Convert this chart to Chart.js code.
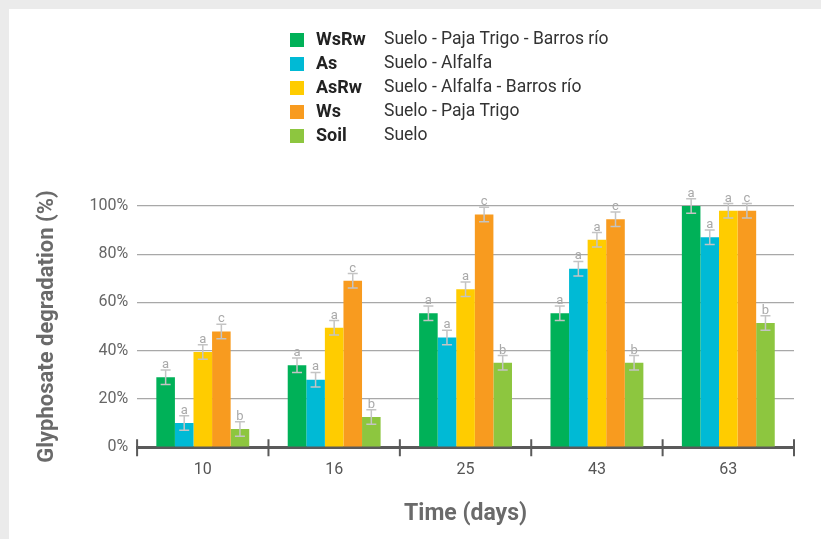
<!DOCTYPE html>
<html>
<head>
<meta charset="utf-8">
<script src="https://cdn.jsdelivr.net/npm/chart.js@4"></script>
<style>
  html, body { margin: 0; padding: 0; background: #ebebeb; }
  #panel { position: absolute; left: 9px; top: 9px; width: 812px; height: 530px; background: #ffffff; }
  #wrap { position: absolute; left: 0; top: 0; width: 821px; height: 539px; }
</style>
</head>
<body>
<div id="panel"></div>
<div id="wrap"><canvas id="chart" width="821" height="539"></canvas></div>
<script>
// Sampling days
const days = ['10', '16', '25', '43', '63'];

// Glyphosate degradation (%) per treatment
const wsRw = [29, 34, 55.5, 55.5, 100];
const as   = [10, 28, 45.5, 74, 87];
const asRw = [39.5, 49.5, 65.5, 86, 98];
const ws   = [48, 69, 96.5, 94.5, 98];
const soil = [7.5, 12.5, 35, 35, 51.5];

// Standard error of each mean (%)
const wsRwErr = [3, 3, 3, 3, 3];
const asErr   = [3, 3, 3, 3, 3];
const asRwErr = [3, 3, 3, 3, 3];
const wsErr   = [3, 3, 3, 3, 3];
const soilErr = [3, 3, 3, 3, 3];

// Significance letters
const wsRwSig = ['a', 'a', 'a', 'a', 'a'];
const asSig   = ['a', 'a', 'a', 'a', 'a'];
const asRwSig = ['a', 'a', 'a', 'a', 'a'];
const wsSig   = ['c', 'c', 'c', 'c', 'c'];
const soilSig = ['b', 'b', 'b', 'b', 'b'];

// Treatment codes and descriptions
const codes = ['WsRw', 'As', 'AsRw', 'Ws', 'Soil'];
const descriptions = [
  'Suelo - Paja Trigo - Barros río',
  'Suelo - Alfalfa',
  'Suelo - Alfalfa - Barros río',
  'Suelo - Paja Trigo',
  'Suelo'
];
const yTicks = [0, 20, 40, 60, 80, 100];

const colors = ['#00b158', '#00bad5', '#ffcc00', '#f89b1f', '#8dc63f'];
const FONT = 'Roboto, "Liberation Sans", sans-serif';

const series = [wsRw, as, asRw, ws, soil];
const errors = [wsRwErr, asErr, asRwErr, wsErr, soilErr];
const letters = [wsRwSig, asSig, asRwSig, wsSig, soilSig];

// Error bars with significance letters above each bar
const errorBars = {
  id: 'errorBars',
  afterDatasetsDraw(chart) {
    const ctx = chart.ctx;
    const y = chart.scales.y;
    ctx.save();
    chart.data.datasets.forEach((ds, i) => {
      const meta = chart.getDatasetMeta(i);
      meta.data.forEach((bar, j) => {
        const v = ds.data[j];
        const e = errors[i][j];
        const top = y.getPixelForValue(v + e);
        const bot = y.getPixelForValue(v - e);
        const x = bar.x;
        ctx.strokeStyle = '#c4c4c4';
        ctx.lineWidth = 1.5;
        ctx.beginPath();
        ctx.moveTo(x, top); ctx.lineTo(x, bot);
        ctx.moveTo(x - 5, top); ctx.lineTo(x + 5, top);
        ctx.moveTo(x - 5, bot); ctx.lineTo(x + 5, bot);
        ctx.stroke();
        ctx.fillStyle = '#a9a9a9';
        ctx.font = '13px ' + FONT;
        ctx.textAlign = 'center';
        ctx.textBaseline = 'alphabetic';
        ctx.fillText(letters[i][j], x, top - 2);
      });
    });
    ctx.restore();
  }
};

// Category separators on the time axis
const axisTicks = {
  id: 'axisTicks',
  afterDraw(chart) {
    const ctx = chart.ctx;
    const xs = chart.scales.x;
    const area = chart.chartArea;
    const step = xs.getPixelForValue(1) - xs.getPixelForValue(0);
    ctx.save();
    ctx.strokeStyle = '#5a5a5a';
    ctx.lineWidth = 2;
    ctx.beginPath();
    for (let i = 0; i <= days.length; i++) {
      const x = xs.getPixelForValue(0) - step / 2 + i * step;
      ctx.moveTo(x, area.bottom - 8);
      ctx.lineTo(x, area.bottom + 9);
    }
    ctx.stroke();
    ctx.restore();
  }
};

// Treatment key
const treatmentKey = {
  id: 'treatmentKey',
  afterDraw(chart) {
    const ctx = chart.ctx;
    ctx.save();
    codes.forEach((code, i) => {
      const cy = 40 + i * 24;
      ctx.fillStyle = colors[i];
      ctx.fillRect(290, cy - 7, 14, 14);
      ctx.textBaseline = 'middle';
      ctx.textAlign = 'left';
      ctx.fillStyle = '#222222';
      ctx.font = 'bold 18px ' + FONT;
      ctx.fillText(code, 316, cy);
      ctx.fillStyle = '#333333';
      ctx.font = '17.5px ' + FONT;
      ctx.fillText(descriptions[i], 384, cy);
    });
    ctx.restore();
  }
};

new Chart(document.getElementById('chart'), {
  type: 'bar',
  data: {
    labels: days,
    datasets: codes.map((c, i) => ({
      label: c,
      data: series[i],
      backgroundColor: colors[i],
      borderWidth: 0,
      categoryPercentage: 0.707,
      barPercentage: 1
    }))
  },
  options: {
    responsive: false,
    animation: false,
    layout: { padding: { top: 206, right: 27, bottom: 11, left: 30 } },
    plugins: {
      legend: { display: false },
      tooltip: { enabled: false }
    },
    scales: {
      x: {
        grid: { display: false, drawTicks: false },
        border: { display: true, color: '#5a5a5a', width: 3 },
        ticks: { color: '#555555', font: { family: FONT, size: 16 }, padding: 13 },
        title: {
          display: true,
          text: 'Time (days)',
          color: '#6a6a6a',
          font: { family: FONT, size: 23, weight: 'bold' },
          padding: { top: 8, bottom: 0 }
        }
      },
      y: {
        min: 0,
        max: 100,
        afterBuildTicks(scale) { scale.ticks = yTicks.map(v => ({ value: v })); },
        grid: { color: '#a8a8a8', lineWidth: 1.3, drawTicks: false },
        border: { display: false },
        ticks: {
          color: '#666666',
          font: { family: FONT, size: 16 },
          padding: 9,
          callback: v => v + '%'
        },
        title: {
          display: true,
          text: 'Glyphosate degradation (%)',
          color: '#6a6a6a',
          font: { family: FONT, size: 22, weight: 'bold' },
          padding: { top: 4, bottom: 20 }
        }
      }
    }
  },
  plugins: [errorBars, axisTicks, treatmentKey]
});
</script>
</body>
</html>
